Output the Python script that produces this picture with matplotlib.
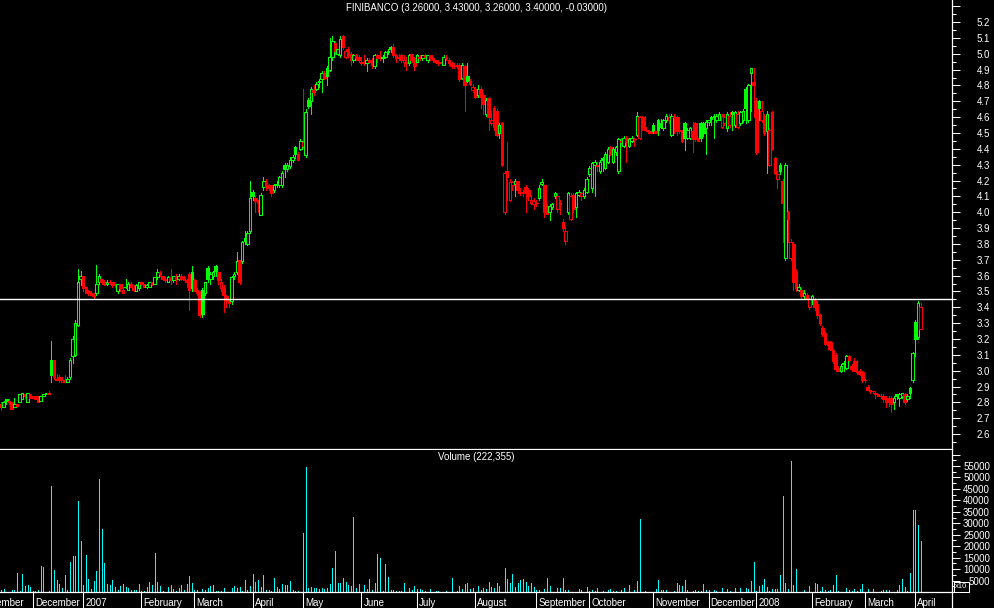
import numpy as np
import matplotlib
matplotlib.use('Agg')
import matplotlib.pyplot as plt
from matplotlib.collections import LineCollection, PolyCollection
from matplotlib.ticker import MultipleLocator, FuncFormatter
from matplotlib.transforms import blended_transform_factory
from matplotlib.lines import Line2D

plt.rcParams['font.family'] = ['Liberation Sans', 'DejaVu Sans']

symbol = 'FINIBANCO'
ref_price = 3.45

# daily candles, Nov 2006 -> Apr 2008
opens = [
    2.79, 2.77, 2.82, 2.81, 2.80, 2.77, 2.79, 2.80, 2.82, 2.85,
    2.80, 2.85, 2.84, 2.84, 2.83, 2.81, 2.84, 2.85, 2.86, 3.07,
    3.07, 2.94, 2.96, 2.93, 2.94, 2.93, 2.96, 3.09, 3.10, 3.29,
    3.58, 3.60, 3.53, 3.50, 3.49, 3.48, 3.49, 3.56, 3.58, 3.56,
    3.55, 3.56, 3.56, 3.54, 3.50, 3.55, 3.49, 3.53, 3.51, 3.55,
    3.52, 3.50, 3.52, 3.56, 3.55, 3.53, 3.53, 3.56, 3.55, 3.59,
    3.62, 3.60, 3.58, 3.56, 3.59, 3.57, 3.60, 3.58, 3.60, 3.59,
    3.57, 3.61, 3.62, 3.57, 3.51, 3.50, 3.51, 3.49, 3.65, 3.58,
    3.60, 3.66, 3.62, 3.52, 3.53, 3.47, 3.44, 3.44, 3.60, 3.62,
    3.70, 3.69, 3.84, 3.80, 3.88, 4.13, 4.09, 4.07, 3.98, 4.16,
    4.19, 4.17, 4.17, 4.14, 4.17, 4.17, 4.17, 4.30, 4.27, 4.29,
    4.33, 4.41, 4.37, 4.40, 4.42, 4.36, 4.71, 4.70, 4.77, 4.78,
    4.82, 4.84, 4.88, 4.91, 4.90, 4.98, 5.07, 5.00, 4.99, 5.11,
    4.98, 5.03, 5.00, 4.96, 4.99, 4.98, 4.94, 4.95, 4.94, 4.96,
    4.96, 4.92, 4.99, 4.98, 4.97, 4.98, 5.01, 5.04, 5.04, 4.99,
    4.98, 4.99, 4.95, 4.94, 4.94, 5.00, 4.97, 4.95, 4.97, 4.97,
    4.99, 4.96, 4.99, 4.97, 4.96, 4.95, 4.94, 4.93, 4.98, 4.96,
    4.94, 4.92, 4.93, 4.93, 4.85, 4.92, 4.86, 4.83, 4.77, 4.78,
    4.74, 4.78, 4.74, 4.62, 4.72, 4.56, 4.66, 4.64, 4.50, 4.56,
    4.00, 4.26, 4.08, 4.17, 4.18, 4.20, 4.12, 4.12, 4.16, 4.14,
    4.06, 4.05, 4.06, 4.09, 4.18, 4.17, 4.04, 4.00, 4.03, 4.10,
    4.02, 4.06, 3.94, 3.82, 4.00, 3.96, 4.11, 4.03, 4.11, 4.10,
    4.10, 4.13, 4.24, 4.15, 4.30, 4.30, 4.26, 4.34, 4.28, 4.32,
    4.41, 4.32, 4.38, 4.26, 4.45, 4.42, 4.47, 4.42, 4.45, 4.46,
    4.49, 4.47, 4.60, 4.54, 4.52, 4.51, 4.55, 4.51, 4.58, 4.56,
    4.53, 4.58, 4.58, 4.49, 4.61, 4.60, 4.52, 4.51, 4.56, 4.47,
    4.47, 4.51, 4.56, 4.46, 4.56, 4.56, 4.53, 4.57, 4.60, 4.61,
    4.58, 4.58, 4.54, 4.56, 4.53, 4.55, 4.63, 4.55, 4.54, 4.56,
    4.58, 4.78, 4.58, 4.88, 4.82, 4.70, 4.70, 4.58, 4.61, 4.51,
    4.30, 4.63, 4.34, 4.21, 4.30, 4.20, 3.71, 4.00, 3.71, 3.80,
    3.62, 3.51, 3.51, 3.47, 3.48, 3.40, 3.45, 3.45, 3.42, 3.35,
    3.27, 3.24, 3.18, 3.18, 3.13, 3.10, 3.02, 3.00, 3.05, 3.02,
    3.09, 3.03, 3.06, 2.99, 3.00, 2.99, 2.94, 2.90, 2.88, 2.87,
    2.86, 2.85, 2.84, 2.84, 2.83, 2.83, 2.83, 2.80, 2.85, 2.83,
    2.84, 2.85, 2.82, 2.89, 2.94, 3.31, 3.21, 3.26,
]
highs = [
    2.80, 2.81, 2.82, 2.82, 2.80, 2.83, 2.79, 2.85, 2.86, 2.85,
    2.86, 2.85, 2.84, 2.84, 2.84, 2.84, 2.85, 2.86, 2.87, 3.19,
    3.07, 2.98, 2.97, 2.96, 2.97, 2.96, 3.08, 3.22, 3.32, 3.64,
    3.63, 3.60, 3.53, 3.51, 3.50, 3.49, 3.67, 3.61, 3.58, 3.57,
    3.57, 3.57, 3.56, 3.55, 3.55, 3.55, 3.53, 3.58, 3.56, 3.56,
    3.54, 3.55, 3.56, 3.56, 3.55, 3.55, 3.56, 3.56, 3.59, 3.64,
    3.63, 3.60, 3.59, 3.60, 3.64, 3.60, 3.61, 3.61, 3.61, 3.60,
    3.58, 3.62, 3.66, 3.58, 3.52, 3.50, 3.52, 3.56, 3.66, 3.62,
    3.63, 3.67, 3.62, 3.58, 3.54, 3.48, 3.45, 3.60, 3.62, 3.75,
    3.70, 3.82, 3.88, 3.88, 4.20, 4.14, 4.10, 4.08, 4.12, 4.22,
    4.21, 4.18, 4.17, 4.18, 4.20, 4.23, 4.26, 4.31, 4.31, 4.35,
    4.36, 4.42, 4.38, 4.46, 4.78, 4.65, 4.72, 4.79, 4.80, 4.82,
    4.84, 4.89, 4.89, 4.92, 5.10, 5.11, 5.08, 5.03, 5.11, 5.12,
    5.03, 5.04, 5.01, 5.00, 5.00, 4.99, 4.98, 4.99, 4.97, 4.97,
    4.97, 5.00, 5.00, 5.02, 4.99, 5.02, 5.03, 5.05, 5.06, 5.00,
    5.00, 5.00, 4.99, 4.98, 5.00, 5.00, 4.98, 5.00, 4.99, 4.99,
    5.00, 4.99, 4.99, 4.98, 4.96, 4.96, 4.95, 4.99, 4.99, 4.97,
    4.95, 4.94, 4.94, 4.94, 4.94, 4.93, 4.94, 4.84, 4.81, 4.79,
    4.80, 4.79, 4.75, 4.72, 4.73, 4.64, 4.67, 4.65, 4.56, 4.57,
    4.26, 4.44, 4.21, 4.20, 4.21, 4.20, 4.15, 4.14, 4.17, 4.15,
    4.11, 4.09, 4.08, 4.17, 4.21, 4.17, 4.05, 4.05, 4.06, 4.13,
    4.12, 4.08, 3.96, 3.91, 4.13, 4.12, 4.12, 4.13, 4.14, 4.13,
    4.15, 4.22, 4.29, 4.32, 4.33, 4.32, 4.33, 4.35, 4.38, 4.41,
    4.42, 4.41, 4.42, 4.47, 4.47, 4.48, 4.48, 4.47, 4.48, 4.47,
    4.63, 4.61, 4.61, 4.61, 4.52, 4.51, 4.56, 4.51, 4.59, 4.59,
    4.59, 4.62, 4.62, 4.62, 4.62, 4.61, 4.60, 4.52, 4.57, 4.53,
    4.54, 4.57, 4.57, 4.47, 4.57, 4.57, 4.58, 4.58, 4.61, 4.62,
    4.62, 4.63, 4.62, 4.62, 4.63, 4.63, 4.64, 4.64, 4.64, 4.64,
    4.65, 4.79, 4.81, 4.91, 4.91, 4.72, 4.71, 4.70, 4.62, 4.64,
    4.53, 4.64, 4.35, 4.26, 4.31, 4.21, 4.31, 4.01, 3.83, 3.81,
    3.64, 3.55, 3.52, 3.51, 3.49, 3.46, 3.48, 3.46, 3.44, 3.36,
    3.28, 3.25, 3.19, 3.19, 3.14, 3.11, 3.03, 3.04, 3.06, 3.10,
    3.10, 3.04, 3.08, 3.07, 3.01, 3.00, 2.95, 2.91, 2.88, 2.87,
    2.87, 2.85, 2.85, 2.85, 2.84, 2.84, 2.84, 2.84, 2.85, 2.86,
    2.86, 2.86, 2.85, 2.90, 3.12, 3.32, 3.44, 3.43,
]
lows = [
    2.75, 2.77, 2.79, 2.79, 2.76, 2.77, 2.78, 2.80, 2.82, 2.83,
    2.80, 2.83, 2.83, 2.82, 2.80, 2.81, 2.84, 2.85, 2.85, 2.93,
    2.95, 2.94, 2.93, 2.93, 2.93, 2.93, 2.95, 3.05, 3.09, 3.28,
    3.54, 3.50, 3.49, 3.48, 3.48, 3.46, 3.48, 3.55, 3.55, 3.54,
    3.54, 3.55, 3.53, 3.53, 3.49, 3.50, 3.49, 3.52, 3.51, 3.53,
    3.50, 3.50, 3.51, 3.54, 3.53, 3.52, 3.53, 3.54, 3.55, 3.58,
    3.60, 3.57, 3.56, 3.56, 3.55, 3.56, 3.55, 3.57, 3.57, 3.57,
    3.53, 3.38, 3.50, 3.50, 3.48, 3.34, 3.34, 3.48, 3.56, 3.55,
    3.58, 3.60, 3.55, 3.50, 3.37, 3.40, 3.40, 3.42, 3.58, 3.61,
    3.55, 3.68, 3.80, 3.79, 3.87, 4.08, 4.00, 4.00, 3.98, 4.14,
    4.14, 4.14, 4.10, 4.13, 4.16, 4.16, 4.16, 4.22, 4.26, 4.28,
    4.32, 4.34, 4.33, 4.39, 4.41, 4.35, 4.66, 4.62, 4.74, 4.77,
    4.79, 4.76, 4.84, 4.80, 4.89, 4.96, 5.00, 4.99, 4.98, 5.03,
    4.97, 4.98, 4.93, 4.95, 4.96, 4.95, 4.93, 4.93, 4.89, 4.94,
    4.91, 4.91, 4.95, 4.96, 4.95, 4.97, 5.00, 5.01, 4.98, 4.95,
    4.96, 4.95, 4.92, 4.90, 4.93, 4.95, 4.90, 4.95, 4.96, 4.96,
    4.97, 4.95, 4.96, 4.95, 4.94, 4.93, 4.94, 4.93, 4.96, 4.93,
    4.91, 4.91, 4.91, 4.83, 4.84, 4.64, 4.82, 4.80, 4.76, 4.72,
    4.73, 4.66, 4.62, 4.61, 4.52, 4.55, 4.52, 4.48, 4.47, 4.29,
    3.99, 4.08, 4.07, 4.14, 4.10, 4.12, 4.11, 4.10, 4.00, 4.08,
    4.05, 4.02, 4.04, 4.08, 4.17, 3.97, 3.99, 3.95, 4.02, 4.09,
    4.00, 3.99, 3.88, 3.80, 3.99, 3.95, 4.00, 3.97, 4.10, 4.08,
    4.09, 4.12, 4.23, 4.13, 4.10, 4.26, 4.25, 4.26, 4.27, 4.31,
    4.36, 4.31, 4.36, 4.25, 4.43, 4.41, 4.32, 4.41, 4.44, 4.42,
    4.48, 4.46, 4.52, 4.52, 4.50, 4.50, 4.50, 4.50, 4.49, 4.53,
    4.52, 4.57, 4.56, 4.48, 4.50, 4.49, 4.50, 4.44, 4.39, 4.46,
    4.46, 4.38, 4.45, 4.45, 4.45, 4.48, 4.37, 4.55, 4.55, 4.47,
    4.57, 4.58, 4.53, 4.55, 4.51, 4.54, 4.52, 4.54, 4.53, 4.55,
    4.57, 4.56, 4.57, 4.64, 4.60, 4.37, 4.58, 4.57, 4.49, 4.25,
    4.29, 4.39, 4.24, 4.15, 4.24, 3.81, 3.70, 3.81, 3.70, 3.51,
    3.50, 3.50, 3.45, 3.46, 3.45, 3.39, 3.42, 3.38, 3.33, 3.29,
    3.22, 3.16, 3.14, 3.13, 3.05, 3.00, 3.00, 2.99, 3.00, 3.01,
    3.06, 3.00, 3.00, 2.98, 2.97, 2.93, 2.93, 2.88, 2.86, 2.86,
    2.83, 2.84, 2.83, 2.80, 2.77, 2.78, 2.74, 2.76, 2.82, 2.78,
    2.83, 2.79, 2.81, 2.83, 2.93, 3.09, 3.20, 3.26,
]
closes = [
    2.77, 2.80, 2.81, 2.80, 2.76, 2.79, 2.78, 2.85, 2.86, 2.84,
    2.86, 2.83, 2.83, 2.82, 2.80, 2.84, 2.85, 2.86, 2.85, 2.97,
    2.96, 2.95, 2.94, 2.94, 2.93, 2.95, 3.07, 3.20, 3.30, 3.56,
    3.60, 3.52, 3.49, 3.49, 3.48, 3.47, 3.55, 3.60, 3.56, 3.55,
    3.56, 3.56, 3.54, 3.54, 3.55, 3.52, 3.51, 3.53, 3.55, 3.53,
    3.51, 3.54, 3.56, 3.55, 3.53, 3.54, 3.56, 3.55, 3.59, 3.62,
    3.61, 3.58, 3.57, 3.59, 3.57, 3.60, 3.58, 3.60, 3.58, 3.57,
    3.56, 3.51, 3.52, 3.50, 3.49, 3.35, 3.36, 3.56, 3.58, 3.61,
    3.62, 3.63, 3.57, 3.56, 3.48, 3.44, 3.43, 3.59, 3.61, 3.69,
    3.56, 3.81, 3.82, 3.87, 4.09, 4.10, 4.07, 4.06, 4.11, 4.20,
    4.16, 4.15, 4.12, 4.17, 4.18, 4.22, 4.25, 4.27, 4.30, 4.33,
    4.35, 4.37, 4.33, 4.45, 4.44, 4.63, 4.67, 4.78, 4.76, 4.81,
    4.83, 4.88, 4.85, 4.86, 4.98, 5.08, 5.02, 5.03, 5.09, 5.04,
    5.02, 4.99, 4.96, 4.99, 4.97, 4.96, 4.95, 4.94, 4.96, 4.95,
    4.93, 4.99, 4.97, 4.97, 4.98, 5.01, 5.02, 5.03, 4.99, 4.97,
    4.97, 4.96, 4.96, 4.95, 4.99, 4.96, 4.92, 4.99, 4.98, 4.99,
    4.98, 4.99, 4.97, 4.96, 4.95, 4.94, 4.94, 4.98, 4.97, 4.94,
    4.92, 4.92, 4.92, 4.84, 4.93, 4.80, 4.83, 4.81, 4.79, 4.73,
    4.78, 4.73, 4.68, 4.71, 4.60, 4.58, 4.54, 4.49, 4.55, 4.30,
    4.25, 4.22, 4.19, 4.19, 4.20, 4.14, 4.13, 4.12, 4.12, 4.10,
    4.08, 4.07, 4.06, 4.15, 4.19, 4.00, 3.99, 4.04, 4.05, 4.12,
    4.10, 4.05, 3.90, 3.88, 4.12, 4.10, 4.02, 4.12, 4.13, 4.12,
    4.14, 4.21, 4.28, 4.31, 4.32, 4.29, 4.32, 4.33, 4.37, 4.40,
    4.37, 4.40, 4.41, 4.46, 4.44, 4.47, 4.44, 4.46, 4.47, 4.46,
    4.61, 4.60, 4.53, 4.52, 4.51, 4.50, 4.51, 4.50, 4.52, 4.54,
    4.58, 4.61, 4.60, 4.61, 4.60, 4.51, 4.51, 4.45, 4.47, 4.52,
    4.53, 4.46, 4.46, 4.45, 4.47, 4.50, 4.57, 4.58, 4.59, 4.60,
    4.61, 4.62, 4.61, 4.60, 4.62, 4.61, 4.62, 4.63, 4.62, 4.63,
    4.64, 4.66, 4.80, 4.91, 4.80, 4.38, 4.66, 4.64, 4.50, 4.62,
    4.52, 4.40, 4.25, 4.24, 4.26, 4.06, 4.30, 3.96, 3.81, 3.56,
    3.52, 3.53, 3.47, 3.49, 3.46, 3.45, 3.47, 3.40, 3.35, 3.30,
    3.23, 3.17, 3.16, 3.14, 3.06, 3.01, 3.00, 3.03, 3.04, 3.09,
    3.07, 3.01, 3.00, 3.00, 2.98, 2.94, 2.94, 2.88, 2.87, 2.87,
    2.85, 2.84, 2.84, 2.82, 2.80, 2.80, 2.79, 2.83, 2.84, 2.85,
    2.86, 2.80, 2.84, 2.86, 3.11, 3.20, 3.43, 3.40,
]
# volume in units of 10 shares (axis shows "x10")
volumes = [
    900, 1300, 0, 0, 900, 900, 8300, 450, 7900, 2600,
    3000, 2200, 450, 450, 900, 11300, 10900, 0, 450, 46300,
    9600, 5200, 3500, 1700, 7400, 900, 13100, 15700, 15700, 39700,
    22300, 3000, 16200, 5700, 1300, 4800, 9200, 49300, 27500, 12700,
    3500, 3000, 5200, 2200, 900, 2600, 3500, 2200, 1700, 900,
    900, 900, 3500, 450, 450, 2200, 4400, 3000, 17000, 4400,
    2600, 450, 0, 2200, 3000, 1300, 450, 1700, 3000, 900,
    3500, 7000, 3900, 900, 900, 0, 1300, 900, 1700, 2600,
    3000, 450, 450, 450, 1700, 0, 0, 1700, 2600, 1700,
    2200, 450, 5200, 900, 2600, 7900, 4400, 5200, 2200, 7400,
    900, 900, 450, 6100, 2200, 1300, 3500, 3000, 3000, 4800,
    900, 450, 450, 0, 25800, 54600, 1700, 2200, 1700, 1700,
    1300, 1700, 1300, 1700, 3500, 10500, 17900, 3900, 3900, 6100,
    4400, 3000, 2600, 32700, 1700, 3500, 0, 3000, 1300, 5700,
    900, 3900, 16600, 14800, 450, 12200, 6500, 900, 900, 450,
    450, 450, 3900, 0, 1700, 900, 2600, 1300, 1300, 900,
    450, 0, 1300, 0, 450, 450, 0, 0, 450, 0,
    6100, 0, 450, 2600, 1300, 3500, 3900, 1300, 1700, 0,
    2600, 900, 1700, 1300, 4400, 2200, 1700, 3900, 2600, 0,
    10500, 5700, 3900, 7900, 2200, 3900, 5200, 5700, 4400, 2600,
    3900, 2200, 900, 900, 0, 1300, 6100, 2600, 0, 0,
    1700, 1700, 6100, 900, 900, 0, 0, 0, 1300, 900,
    0, 2200, 450, 900, 450, 1700, 0, 450, 0, 900,
    1300, 450, 450, 0, 900, 1700, 0, 3000, 0, 900,
    4800, 31900, 0, 450, 0, 0, 0, 1300, 5200, 900,
    900, 900, 0, 0, 450, 3900, 3000, 2600, 5200, 900,
    0, 450, 900, 450, 450, 3500, 900, 900, 0, 900,
    450, 0, 1700, 0, 1300, 450, 0, 1700, 0, 1700,
    0, 1700, 1300, 4800, 13100, 450, 2600, 3000, 5700, 2200,
    450, 1300, 1300, 1300, 7400, 41900, 3900, 1300, 57200, 3000,
    10000, 0, 0, 900, 0, 2600, 0, 3900, 3500, 450,
    2200, 900, 450, 900, 3000, 7400, 450, 0, 0, 1700,
    900, 450, 1300, 450, 1300, 3500, 0, 1300, 0, 1300,
    0, 0, 450, 900, 900, 900, 0, 0, 900, 3000,
    5700, 2200, 450, 8300, 35800, 35800, 29200, 22235.5,
]

# first trading day (candle index) of each month
month_names = ['November', 'December', '2007', 'February', 'March', 'April',
               'May', 'June', 'July', 'August', 'September', 'October',
               'November', 'December', '2008', 'February', 'March', 'April']
month_starts = [-9, 12, 31, 53, 73, 95, 114, 136, 157, 179, 202, 222,
                246, 267, 285, 306, 326, 345]

assert len(opens) == len(highs) == len(lows) == len(closes) == len(volumes)

o = np.array(opens)
h = np.array(highs)
l = np.array(lows)
c = np.array(closes)
n = len(c)
idx = np.arange(n)

# green/red from change vs previous close, filled when close < open
prev = np.concatenate([[o[0]], c[:-1]])
colors = np.where(c > prev, '#00ff00', '#ff0000')
filled = c < o

W, H = 994, 608
XLIM = (-0.38, 358.87)
fig = plt.figure(figsize=(W / 100, H / 100), dpi=100, facecolor='black')


def px_axes(left, top, right, bottom):
    return fig.add_axes([left / W, 1 - bottom / H, (right - left) / W, (bottom - top) / H])


ax = px_axes(0, 0, 952, 449)
axv = px_axes(0, 450, 952, 592)

for a in (ax, axv):
    a.set_facecolor('black')
    for side in ('top', 'left', 'right'):
        a.spines[side].set_visible(False)
    a.spines['bottom'].set_color('white')
    a.spines['bottom'].set_linewidth(0.9)

# candles
wicks = LineCollection([[(i, l[i]), (i, h[i])] for i in idx], colors=colors,
                       linewidths=0.6, antialiased=False, zorder=2)
ax.add_collection(wicks)
hw = 0.48
verts = []
for i in idx:
    lo, hi = min(o[i], c[i]), max(o[i], c[i])
    verts.append([(i - hw, lo), (i + hw, lo), (i + hw, hi), (i - hw, hi)])
faces = np.where(filled, colors, 'black')
bodies = PolyCollection(verts, facecolors=faces, edgecolors=colors,
                        linewidths=0.6, antialiased=False, zorder=3)
ax.add_collection(bodies)

ax.axhline(ref_price, color='white', lw=1.0, zorder=4)
ax.set_ylim(2.506, 5.339)
ax.set_xticks([])
ax.set_xlim(*XLIM)

ax.yaxis.tick_right()
ax.yaxis.set_major_locator(MultipleLocator(0.1))
ax.yaxis.set_minor_locator(MultipleLocator(0.05))
ax.yaxis.set_major_formatter(FuncFormatter(lambda v, p: '' if v > 5.25 or v < 2.55 else f'{v:.1f}'))
ax.tick_params(axis='y', which='major', colors='white', length=5.8, width=0.75,
               pad=21.6, labelsize=7)
ax.tick_params(axis='y', which='minor', colors='white', length=3, width=0.75)
plt.setp(ax.get_yticklabels(), ha='right')

title = '{} ({:.5f}, {:.5f}, {:.5f}, {:.5f}, {:.5f})'.format(
    symbol, opens[-1], highs[-1], lows[-1], closes[-1], closes[-1] - closes[-2])
ax.text(0.5, 1 - 8 / 449, title, transform=ax.transAxes, ha='center', va='center',
        color='white', fontsize=7)

# volume
axv.vlines(idx, 0, volumes, colors='#00ffff', linewidths=0.5, antialiased=False)
axv.set_ylim(0, 61983)
axv.yaxis.tick_right()
axv.yaxis.set_major_locator(MultipleLocator(5000))
axv.yaxis.set_minor_locator(MultipleLocator(2500))
axv.yaxis.set_major_formatter(FuncFormatter(lambda v, p: f'{v:.0f}' if 4000 < v < 56000 else ''))
axv.tick_params(axis='y', which='major', colors='white', length=5.8, width=0.75,
                pad=21.6, labelsize=7)
axv.tick_params(axis='y', which='minor', colors='white', length=3, width=0.75)
plt.setp(axv.get_yticklabels(), ha='right')

axv.text(0.5, (592 - 456.5) / 142, 'Volume ({:,})'.format(int(volumes[-1] * 10)),
         transform=axv.transAxes, ha='center', va='center', color='white', fontsize=7)

# month separators and labels (first label runs off the left edge, as in the source)
axv.set_xticks(month_starts)
axv.set_xticklabels([])
axv.tick_params(axis='x', colors='white', length=11.5, width=0.75)
axv.set_xlim(*XLIM)
trans = blended_transform_factory(axv.transData, axv.transAxes)
for start, name in zip(month_starts, month_names):
    axv.text(start + 0.75, -0.08, name, transform=trans, ha='left', va='center',
             color='white', fontsize=7)

# x10 box
fig.text(961.5 / W, 1 - 587 / H, 'x10', ha='center', va='center', color='white',
         fontsize=5.5, bbox=dict(boxstyle='square,pad=0.15', fc='black', ec='white', lw=0.75))

# right axis line through both panels
fig.add_artist(Line2D([952 / W, 952 / W], [0, 1], transform=fig.transFigure,
                      color='white', lw=0.9))

fig.savefig('out.png', dpi=100, facecolor='black')
